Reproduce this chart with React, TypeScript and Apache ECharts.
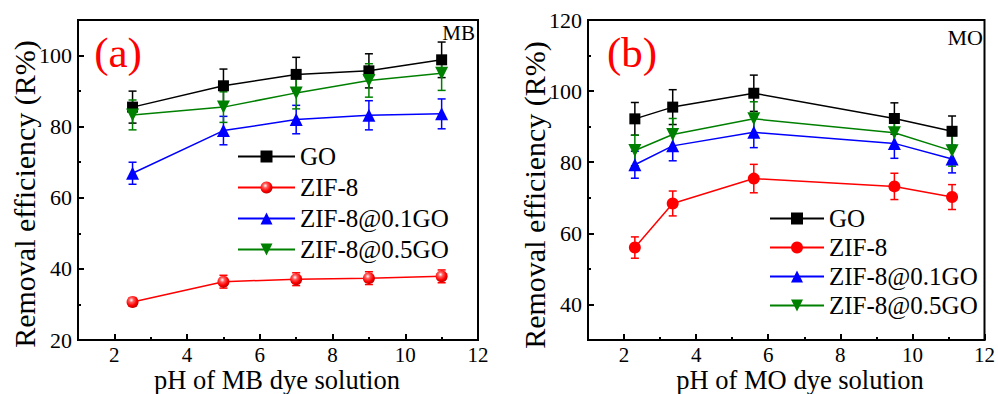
import React, { useEffect, useRef } from 'react';
import * as echarts from 'echarts';

const FONT = 'Liberation Serif';

// Panel (a) MB
const xMB = [2.5, 5, 7, 9, 11];
const mbGO = [85.5, 91.5, 94.7, 95.7, 98.8];
const mbGOErr = [4.5, 4.7, 4.8, 4.8, 5.0];
const mbZIF = [30.7, 36.4, 37.1, 37.4, 37.9];
const mbZIFErr = [1.2, 1.8, 1.8, 1.8, 1.8];
const mbZ01 = [66.9, 78.9, 82.0, 83.2, 83.6];
const mbZ01Err = [3.1, 4.0, 4.0, 4.1, 4.2];
const mbZ05 = [83.3, 85.5, 89.5, 93.0, 95.0];
const mbZ05Err = [4.2, 4.3, 4.5, 4.7, 4.8];

// Panel (b) MO
const xMO = [2.3, 3.35, 5.6, 9.5, 11.1];
const moGO = [92.2, 95.5, 99.4, 92.3, 88.7];
const moGOErr = [4.6, 4.9, 5.1, 4.4, 4.3];
const moZIF = [56.0, 68.4, 75.4, 73.2, 70.2];
const moZIFErr = [3.0, 3.5, 4.0, 3.7, 3.5];
const moZ01 = [79.3, 84.6, 88.4, 85.3, 80.9];
const moZ01Err = [3.8, 4.2, 4.3, 4.2, 3.9];
const moZ05 = [83.3, 87.8, 92.2, 88.3, 83.2];
const moZ05Err = [4.3, 4.5, 4.8, 4.5, 4.3];

const seriesNames = ['GO', 'ZIF-8', 'ZIF-8@0.1GO', 'ZIF-8@0.5GO'];

const xMajor = [2, 4, 6, 8, 10, 12];
const xMinor = [3, 5, 7, 9, 11];
const yMajorA = [20, 40, 60, 80, 100];
const yMinorA = [30, 50, 70, 90];
const yMajorB = [40, 60, 80, 100, 120];
const yMinorB = [50, 70, 90, 110];

const BLACK = '#000000';
const RED = '#ff0000';
const BLUE = '#0000ff';
const GREEN = '#008000';
const DOWN_TRI = 'path://M0,0 L10,0 L5,9 Z';

function lineSeries(name: string, xs: number[], ys: number[], color: string, symbol: string, size: number, ai: number, itemColor?: any) {
  return {
    type: 'line',
    name,
    xAxisIndex: ai,
    yAxisIndex: ai,
    data: xs.map((x, i) => [x, ys[i]]),
    symbol,
    symbolSize: size,
    showSymbol: true,
    lineStyle: { color, width: 1.5 },
    itemStyle: { color: itemColor ?? color, borderWidth: 0 },
    z: 3,
    emphasis: { disabled: true },
  };
}

function errSeries(name: string, xs: number[], ys: number[], errs: number[], color: string, ai: number) {
  return {
    type: 'custom',
    name,
    xAxisIndex: ai,
    yAxisIndex: ai,
    data: xs.map((x, i) => [x, ys[i] - errs[i], ys[i] + errs[i]]),
    encode: { x: 0, y: [1, 2] },
    z: 2,
    silent: true,
    renderItem: (params: any, api: any) => {
      const x = api.value(0);
      const lo = api.coord([x, api.value(1)]);
      const hi = api.coord([x, api.value(2)]);
      const hw = 4;
      const style = { stroke: color, lineWidth: 1.5, fill: 'none' };
      return {
        type: 'group',
        children: [
          { type: 'line', shape: { x1: hi[0], y1: hi[1], x2: lo[0], y2: lo[1] }, style },
          { type: 'line', shape: { x1: hi[0] - hw, y1: hi[1], x2: hi[0] + hw, y2: hi[1] }, style },
          { type: 'line', shape: { x1: lo[0] - hw, y1: lo[1], x2: lo[0] + hw, y2: lo[1] }, style },
        ],
      };
    },
  };
}

function mainX(gridIndex: number) {
  return {
    gridIndex, type: 'value', min: 1, max: 12, position: 'bottom',
    axisLine: { show: true, onZero: false, lineStyle: { color: BLACK, width: 2 } },
    axisTick: { show: true, inside: true, length: 6, lineStyle: { color: BLACK, width: 2 }, customValues: xMajor },
    axisLabel: { show: true, customValues: xMajor, color: BLACK, fontFamily: FONT, fontSize: 21, margin: 4 },
    splitLine: { show: false },
  };
}
function minorX(gridIndex: number) {
  return {
    gridIndex, type: 'value', min: 1, max: 12, position: 'bottom',
    axisLine: { show: false, onZero: false },
    axisTick: { show: true, inside: true, length: 3, lineStyle: { color: BLACK, width: 2 }, customValues: xMinor },
    axisLabel: { show: false },
    splitLine: { show: false },
  };
}
function mainY(gridIndex: number, min: number, max: number, major: number[]) {
  return {
    gridIndex, type: 'value', min, max, position: 'left',
    axisLine: { show: true, onZero: false, lineStyle: { color: BLACK, width: 2 } },
    axisTick: { show: true, inside: true, length: 6, lineStyle: { color: BLACK, width: 2 }, customValues: major },
    axisLabel: { show: true, customValues: major, color: BLACK, fontFamily: FONT, fontSize: 22, margin: 6 },
    splitLine: { show: false },
  };
}
function minorY(gridIndex: number, min: number, max: number, minor: number[]) {
  return {
    gridIndex, type: 'value', min, max, position: 'left',
    axisLine: { show: false, onZero: false },
    axisTick: { show: true, inside: true, length: 3, lineStyle: { color: BLACK, width: 2 }, customValues: minor },
    axisLabel: { show: false },
    splitLine: { show: false },
  };
}

export default function App() {
  const ref = useRef<HTMLDivElement>(null);
  useEffect(() => {
    const chart = echarts.init(ref.current!, null, { renderer: 'svg' });
    const shaded = new echarts.graphic.RadialGradient(0.4, 0.35, 0.65, [
      { offset: 0, color: '#ffffff' },
      { offset: 0.3, color: '#ff5a5a' },
      { offset: 0.7, color: '#ff0000' },
      { offset: 1, color: '#c00000' },
    ]);
    const textBase = { fontFamily: FONT, fill: BLACK };
    const option: any = {
      animation: false,
      backgroundColor: '#ffffff',
      textStyle: { fontFamily: FONT },
      grid: [
        { left: 78, top: 20, width: 400, height: 320, show: true, borderColor: BLACK, borderWidth: 2, backgroundColor: 'transparent' },
        { left: 588, top: 20, width: 399, height: 320, show: true, borderColor: BLACK, borderWidth: 2, backgroundColor: 'transparent' },
      ],
      xAxis: [mainX(0), minorX(0), mainX(1), minorX(1)],
      yAxis: [
        mainY(0, 20, 110, yMajorA), minorY(0, 20, 110, yMinorA),
        mainY(1, 30, 120, yMajorB), minorY(1, 30, 120, yMinorB),
      ],
      legend: [
        {
          data: seriesNames, orient: 'vertical', left: 237, top: 141, padding: 0,
          itemWidth: 57, itemHeight: 15, itemGap: 0, selectedMode: false,
          textStyle: { fontFamily: FONT, fontSize: 25, color: BLACK, lineHeight: 31 },
        },
        {
          data: seriesNames.map((n) => n + '_b'), orient: 'vertical', left: 769, top: 204, padding: 0,
          itemWidth: 54, itemHeight: 15, itemGap: 0, selectedMode: false,
          formatter: (n: string) => n.replace('_b', ''),
          textStyle: { fontFamily: FONT, fontSize: 25, color: BLACK, lineHeight: 29 },
        },
      ],
      series: [
        errSeries('GO err', xMB, mbGO, mbGOErr, BLACK, 0),
        errSeries('ZIF err', xMB, mbZIF, mbZIFErr, RED, 0),
        errSeries('Z01 err', xMB, mbZ01, mbZ01Err, BLUE, 0),
        errSeries('Z05 err', xMB, mbZ05, mbZ05Err, GREEN, 0),
        lineSeries('GO', xMB, mbGO, BLACK, 'rect', 11, 0),
        lineSeries('ZIF-8', xMB, mbZIF, RED, 'circle', 12, 0, shaded),
        lineSeries('ZIF-8@0.1GO', xMB, mbZ01, BLUE, 'triangle', 13, 0),
        lineSeries('ZIF-8@0.5GO', xMB, mbZ05, GREEN, DOWN_TRI, 13, 0),
        errSeries('GO err b', xMO, moGO, moGOErr, BLACK, 2),
        errSeries('ZIF err b', xMO, moZIF, moZIFErr, RED, 2),
        errSeries('Z01 err b', xMO, moZ01, moZ01Err, BLUE, 2),
        errSeries('Z05 err b', xMO, moZ05, moZ05Err, GREEN, 2),
        lineSeries('GO_b', xMO, moGO, BLACK, 'rect', 11, 2),
        lineSeries('ZIF-8_b', xMO, moZIF, RED, 'circle', 12, 2),
        lineSeries('ZIF-8@0.1GO_b', xMO, moZ01, BLUE, 'triangle', 13, 2),
        lineSeries('ZIF-8@0.5GO_b', xMO, moZ05, GREEN, DOWN_TRI, 13, 2),
      ],
      graphic: [
        { type: 'text', x: 118, y: 52, style: { text: '(a)', fontFamily: FONT, fontSize: 43, fill: RED, align: 'center', verticalAlign: 'middle' } },
        { type: 'text', x: 632, y: 52, style: { text: '(b)', fontFamily: FONT, fontSize: 43, fill: RED, align: 'center', verticalAlign: 'middle' } },
        { type: 'text', x: 475, y: 33, style: { ...textBase, text: 'MB', fontSize: 21, align: 'right', verticalAlign: 'middle' } },
        { type: 'text', x: 983, y: 37, style: { ...textBase, text: 'MO', fontSize: 22, align: 'right', verticalAlign: 'middle' } },
        { type: 'text', x: 24, y: 194, rotation: Math.PI / 2, style: { ...textBase, text: 'Removal efficiency (R%)', fontSize: 30, align: 'center', verticalAlign: 'middle' } },
        { type: 'text', x: 534, y: 195, rotation: Math.PI / 2, style: { ...textBase, text: 'Removal efficiency (R%)', fontSize: 30, align: 'center', verticalAlign: 'middle' } },
        { type: 'text', x: 277, y: 379.5, style: { ...textBase, text: 'pH of MB dye solution', fontSize: 26.5, align: 'center', verticalAlign: 'middle' } },
        { type: 'text', x: 800, y: 379.5, style: { ...textBase, text: 'pH of MO dye solution', fontSize: 26.5, align: 'center', verticalAlign: 'middle' } },
      ],
    };
    chart.setOption(option);
    return () => chart.dispose();
  }, []);
  return <div ref={ref} style={{ position: 'fixed', left: 0, top: 0, width: 998, height: 394, background: '#ffffff' }} />;
}
